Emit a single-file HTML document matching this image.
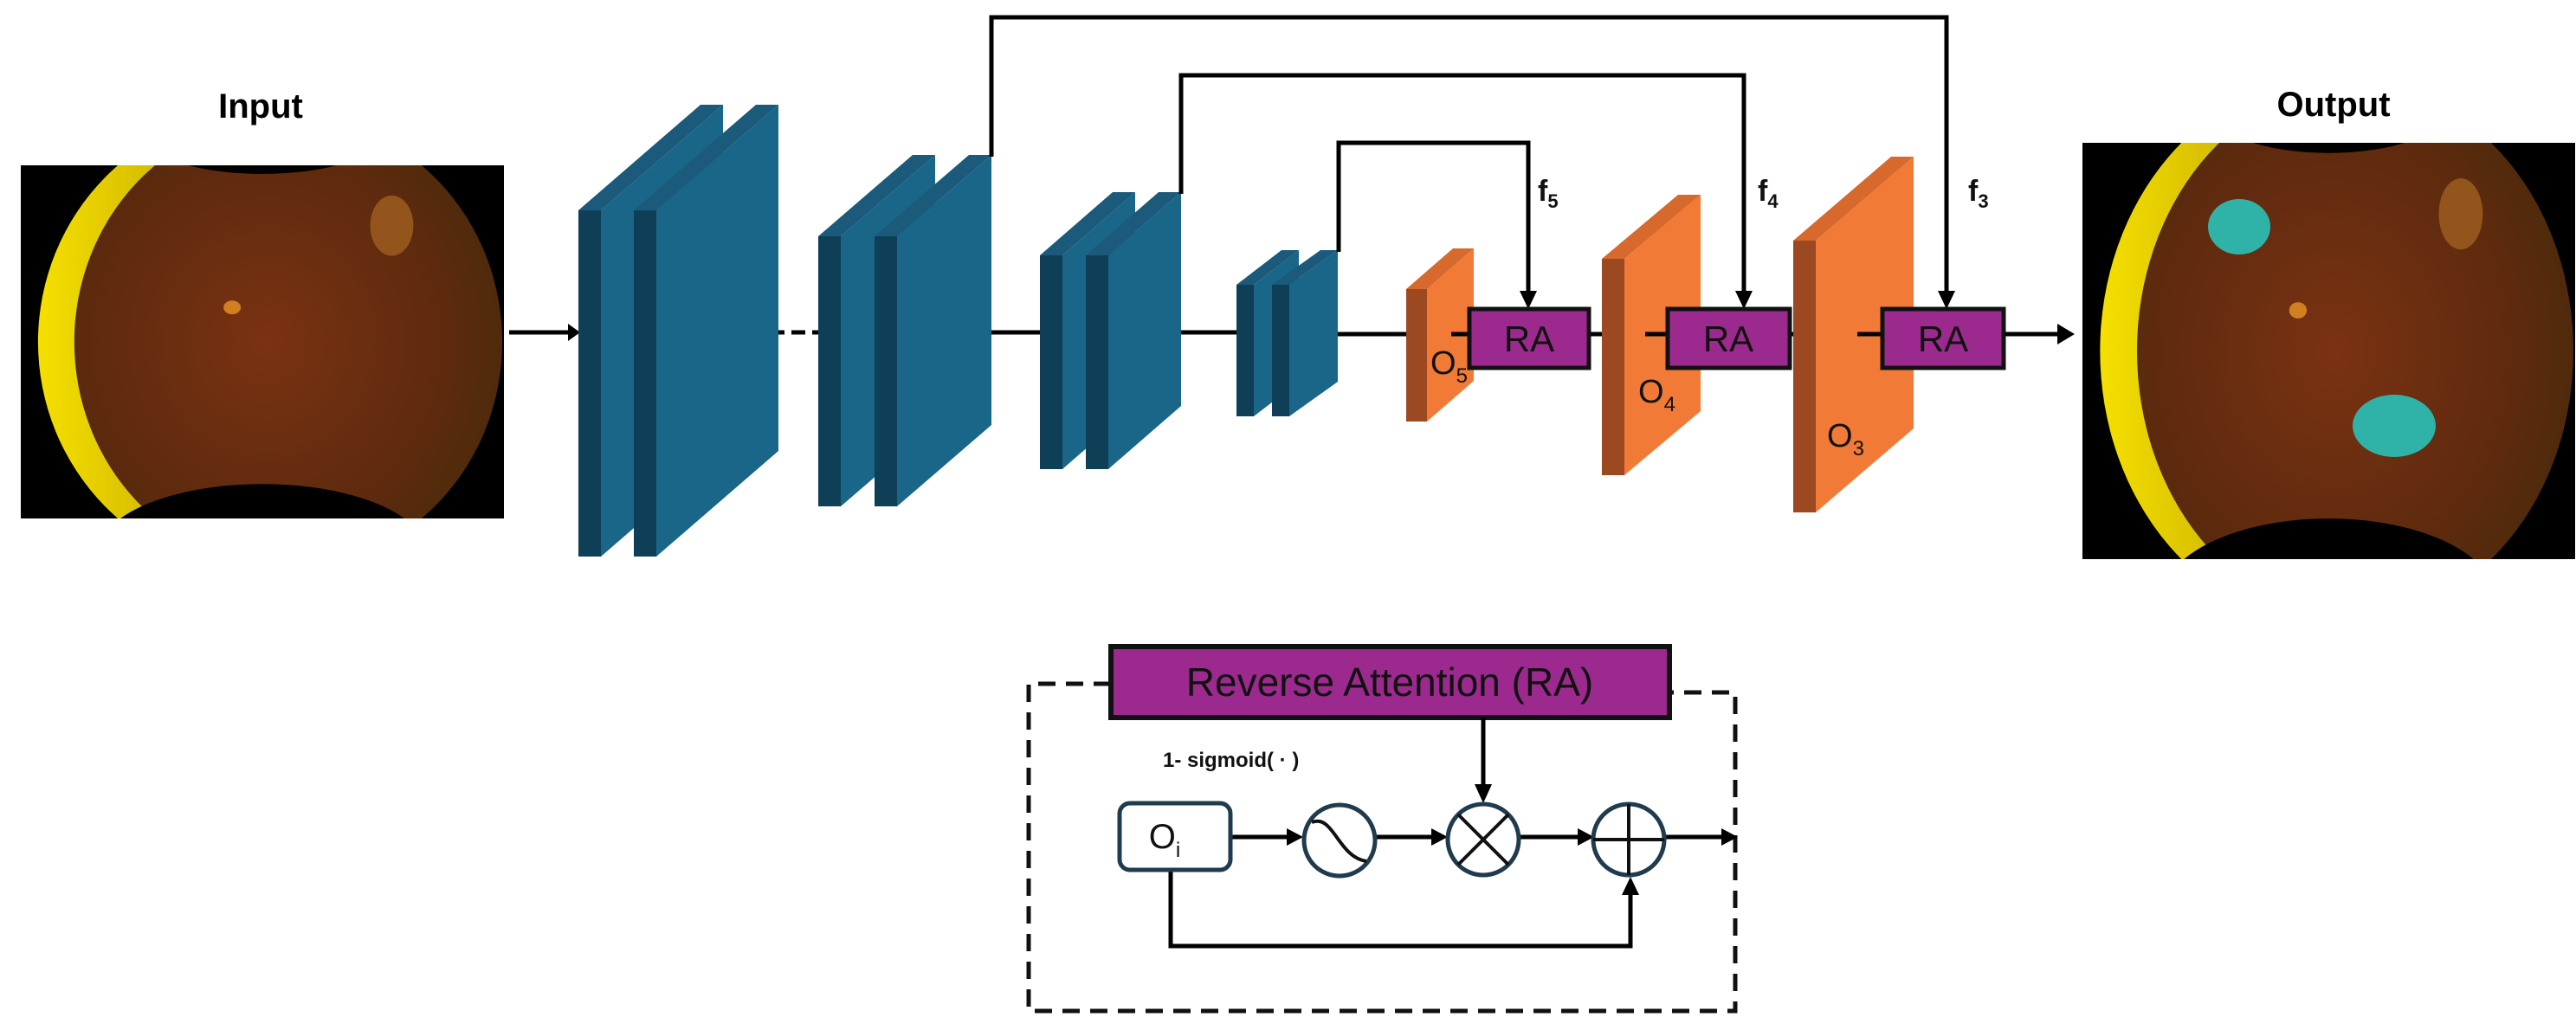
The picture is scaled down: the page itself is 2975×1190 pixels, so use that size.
<!DOCTYPE html>
<html><head><meta charset="utf-8"><style>html,body{margin:0;padding:0;background:#fff}svg{display:block}</style></head>
<body>
<svg width="2975" height="1190" viewBox="0 0 2975 1190" xmlns="http://www.w3.org/2000/svg" font-family="Liberation Sans, sans-serif">
<defs>
<radialGradient id="br" cx="0.45" cy="0.5" r="0.6"><stop offset="0" stop-color="#7a3212"/><stop offset="0.7" stop-color="#5e2a0e"/><stop offset="1" stop-color="#4a2a0a"/></radialGradient>
<linearGradient id="yl" x1="0" x2="1"><stop offset="0" stop-color="#f5e000"/><stop offset="0.5" stop-color="#b89a00"/><stop offset="1" stop-color="#8a7a00"/></linearGradient>
<clipPath id="fc"><rect x="0" y="0" width="560" height="410"/></clipPath>
<symbol id="fundus" viewBox="0 0 560 410" preserveAspectRatio="none">
<g clip-path="url(#fc)">
<rect width="560" height="410" fill="#000"/>
<ellipse cx="285" cy="205" rx="265" ry="270" fill="url(#yl)"/>
<ellipse cx="310" cy="205" rx="248" ry="262" fill="url(#br)"/>
<ellipse cx="245" cy="165" rx="10" ry="8" fill="#d08020"/>
<ellipse cx="430" cy="70" rx="25" ry="35" fill="#a06020" opacity="0.8"/>
<ellipse cx="280" cy="-30" rx="130" ry="40" fill="#000"/>
<ellipse cx="280" cy="450" rx="190" ry="80" fill="#000"/>
</g>
</symbol>
</defs>

<text x="301" y="136" font-size="40" font-weight="bold" text-anchor="middle">Input</text>
<use href="#fundus" x="24" y="191" width="558" height="408"/>
<text x="2695" y="134" font-size="40" font-weight="bold" text-anchor="middle">Output</text>
<use href="#fundus" x="2405" y="165" width="569" height="481"/>
<ellipse cx="2586" cy="262" rx="36" ry="32" fill="#2fb3a8"/>
<ellipse cx="2765" cy="492" rx="48" ry="36" fill="#2fb3a8"/>

<g stroke="#000" stroke-width="5" fill="none">
<line x1="588" y1="384" x2="662" y2="384"/>
<line x1="842" y1="384" x2="952" y2="384" stroke-dasharray="16,8"/>
<line x1="1096" y1="384" x2="1201" y2="384"/>
<line x1="1321" y1="384" x2="1428" y2="384"/>
<line x1="1529" y1="386" x2="1624" y2="386"/>
<line x1="1660" y1="386" x2="1697" y2="386"/>
<line x1="1835" y1="386" x2="1850" y2="386"/>
<line x1="2067" y1="386" x2="2071" y2="386"/>
<line x1="2314" y1="386" x2="2380" y2="386"/>
</g>
<path d="M656,374 L670,384 L656,394z" fill="#000"/>
<path d="M2376,374 L2396,386 L2376,398z" fill="#000"/>

<g>
<polygon points="668,243 694,243 694,643 668,643" fill="#0f3f57"/><polygon points="668,243 809,121 835,121 694,243" fill="#1b5a7a"/><polygon points="694,243 835,121 835,521 694,643" fill="#196688"/>
<polygon points="732,243 758,243 758,643 732,643" fill="#0f3f57"/><polygon points="732,243 873,121 899,121 758,243" fill="#1b5a7a"/><polygon points="758,243 899,121 899,521 758,643" fill="#196688"/>
<polygon points="945,273 971,273 971,585 945,585" fill="#0f3f57"/><polygon points="945,273 1054,179 1080,179 971,273" fill="#1b5a7a"/><polygon points="971,273 1080,179 1080,491 971,585" fill="#196688"/>
<polygon points="1010,273 1036,273 1036,585 1010,585" fill="#0f3f57"/><polygon points="1010,273 1119,179 1145,179 1036,273" fill="#1b5a7a"/><polygon points="1036,273 1145,179 1145,491 1036,585" fill="#196688"/>
<polygon points="1201,295 1227,295 1227,542 1201,542" fill="#0f3f57"/><polygon points="1201,295 1285,222 1311,222 1227,295" fill="#1b5a7a"/><polygon points="1227,295 1311,222 1311,469 1227,542" fill="#196688"/>
<polygon points="1254,295 1280,295 1280,542 1254,542" fill="#0f3f57"/><polygon points="1254,295 1338,222 1364,222 1280,295" fill="#1b5a7a"/><polygon points="1280,295 1364,222 1364,469 1280,542" fill="#196688"/>
<polygon points="1428,329 1448,329 1448,481 1428,481" fill="#0f3f57"/><polygon points="1428,329 1480,289 1500,289 1448,329" fill="#1b5a7a"/><polygon points="1448,329 1500,289 1500,441 1448,481" fill="#196688"/>
<polygon points="1469,329 1489,329 1489,481 1469,481" fill="#0f3f57"/><polygon points="1469,329 1525,289 1545,289 1489,329" fill="#1b5a7a"/><polygon points="1489,329 1545,289 1545,441 1489,481" fill="#196688"/>
</g>
<g>
<polygon points="1624,334 1648,334 1648,487 1624,487" fill="#9c4820"/><polygon points="1624,334 1678,287 1702,287 1648,334" fill="#d8692c"/><polygon points="1648,334 1702,287 1702,440 1648,487" fill="#f07a36"/>
<polygon points="1850,299 1876,299 1876,549 1850,549" fill="#9c4820"/><polygon points="1850,299 1938,225 1964,225 1876,299" fill="#d8692c"/><polygon points="1876,299 1964,225 1964,475 1876,549" fill="#f07a36"/>
<polygon points="2071,278 2097,278 2097,592 2071,592" fill="#9c4820"/><polygon points="2071,278 2184,181 2210,181 2097,278" fill="#d8692c"/><polygon points="2097,278 2210,181 2210,495 2097,592" fill="#f07a36"/>
</g>
<line x1="1900" y1="386" x2="1926" y2="386" stroke="#000" stroke-width="5"/>
<line x1="2145" y1="386" x2="2174" y2="386" stroke="#000" stroke-width="5"/>
<line x1="1676" y1="386" x2="1697" y2="386" stroke="#000" stroke-width="5"/>

<g stroke="#000" stroke-width="5" fill="none">
<polyline points="1145,181 1145,20 2248,20 2248,340"/>
<polyline points="1364,224 1364,87 2014,87 2014,340"/>
<polyline points="1546,291 1546,165 1765,165 1765,340"/>
</g>
<path d="M2238,336 L2258,336 L2248,357z M2004,336 L2024,336 L2014,357z M1755,336 L1775,336 L1765,357z" fill="#000"/>

<g stroke="#111" stroke-width="5" fill="#9c2a8e">
<rect x="1697" y="357" width="138" height="68"/>
<rect x="1926" y="357" width="141" height="68"/>
<rect x="2174" y="357" width="140" height="68"/>
</g>
<g font-size="42" text-anchor="middle" fill="#111">
<text x="1766" y="406">RA</text><text x="1996" y="406">RA</text><text x="2244" y="406">RA</text>
</g>
<g font-size="38" fill="#111">
<text x="1652" y="432">O<tspan font-size="24" dy="10">5</tspan></text>
<text x="1892" y="465">O<tspan font-size="24" dy="10">4</tspan></text>
<text x="2110" y="516">O<tspan font-size="24" dy="10">3</tspan></text>
</g>
<g font-size="34" fill="#111" font-weight="bold">
<text x="1776" y="232">f<tspan font-size="22" dy="8">5</tspan></text>
<text x="2030" y="232">f<tspan font-size="22" dy="8">4</tspan></text>
<text x="2273" y="232">f<tspan font-size="22" dy="8">3</tspan></text>
</g>

<g stroke="#111" stroke-width="5" fill="none" stroke-dasharray="20,12">
<polyline points="1283,790 1188,790 1188,1168 2004,1168 2004,800 1928,800"/>
</g>
<rect x="1283" y="747" width="645" height="82" fill="#9c2a8e" stroke="#111" stroke-width="6"/>
<text x="1605" y="804" font-size="46" text-anchor="middle" fill="#111">Reverse Attention (RA)</text>
<text x="1343" y="886" font-size="24" font-weight="bold" fill="#111">1- sigmoid( · )</text>

<g stroke="#000" stroke-width="5" fill="none">
<line x1="1713" y1="829" x2="1713" y2="910"/>
<line x1="1421" y1="967" x2="1488" y2="967"/>
<line x1="1589" y1="967" x2="1655" y2="967"/>
<line x1="1753" y1="967" x2="1824" y2="967"/>
<line x1="1922" y1="967" x2="1990" y2="967"/>
<polyline points="1352,1005 1352,1093 1883,1093 1883,1032"/>
</g>
<path d="M1703,906 L1723,906 L1713,928z M1486,957 L1505,967 L1486,977z M1653,957 L1672,967 L1653,977z M1822,957 L1841,967 L1822,977z M1988,957 L2007,967 L1988,977z M1873,1034 L1893,1034 L1883,1013z" fill="#000"/>

<rect x="1293" y="928" width="128" height="77" rx="12" fill="#fff" stroke="#1f3b4d" stroke-width="5"/>
<text x="1345" y="980" font-size="40" text-anchor="middle" fill="#111">O<tspan font-size="24" dy="10">i</tspan></text>

<g stroke="#1f3b4d" stroke-width="5" fill="#fff">
<circle cx="1547" cy="971" r="41"/>
<circle cx="1713" cy="970" r="41"/>
<circle cx="1881" cy="970" r="41"/>
</g>
<path d="M1515,950 C1540,940 1545,990 1578,995" stroke="#111" stroke-width="4" fill="none"/>
<g stroke="#111" stroke-width="4">
<line x1="1684" y1="941" x2="1742" y2="999"/><line x1="1742" y1="941" x2="1684" y2="999"/>
<line x1="1840" y1="970" x2="1922" y2="970"/><line x1="1881" y1="929" x2="1881" y2="1011"/>
</g>
</svg>
</body></html>
